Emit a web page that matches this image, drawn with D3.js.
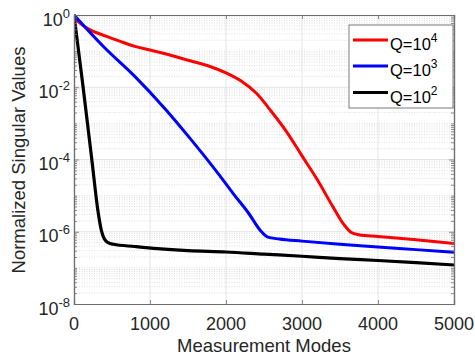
<!DOCTYPE html>
<html>
<head>
<meta charset="utf-8">
<script src="https://cdn.jsdelivr.net/npm/d3@7"></script>
<style>
html,body{margin:0;padding:0;background:#fff;}
svg{display:block;font-family:"Liberation Sans",Arial,sans-serif;}
</style>
</head>
<body>
<svg id="chart" width="475" height="360"></svg>
<script>
// ---- data ----
const redModes  = [0,30,80,200,400,600,800,1000,1250,1500,1800,2000,2200,2400,2600,2800,3000,3200,3400,3550,3650,3750,4000,4500,5000];
const redValues = [1,0.76,0.59,0.40,0.27,0.19,0.135,0.107,0.079,0.056,0.037,0.025,0.0148,6.8e-3,2.1e-3,5.75e-4,1.26e-4,2.8e-5,5.2e-6,1.6e-6,9.5e-7,8.3e-7,7.4e-7,6.0e-7,4.7e-7];
const blueModes  = [0,400,800,1200,1500,1900,2100,2300,2450,2550,2700,3000,3500,4000,4500,5000];
const blueValues = [1,0.126,0.02,2.5e-3,4.5e-4,4.0e-5,1.1e-5,3.2e-6,1.1e-6,7.1e-7,6.3e-7,5.5e-7,4.5e-7,3.8e-7,3.2e-7,2.7e-7];
const blackModes  = [0,120,240,310,360,400,450,520,800,1100,1500,2000,2500,3000,3500,4000,4500,5000];
const blackValues = [1,0.01,7.9e-5,4.5e-6,1.1e-6,6.3e-7,5.0e-7,4.5e-7,3.9e-7,3.4e-7,3.0e-7,2.75e-7,2.4e-7,2.1e-7,1.8e-7,1.6e-7,1.4e-7,1.2e-7];
const seriesNames = ["4","3","2"]; // exponents in Q=10^n
const seriesColors = ["#ff0000","#0000ff","#000000"];
const xTicks = [0,1000,2000,3000,4000,5000];
const yTickExps = [0,-2,-4,-6,-8];

// ---- layout ----
const svg = d3.select("#chart");
const L = 74, R = 454, T = 15, B = 304;
const x = d3.scaleLinear().domain([0,5000]).range([L,R]);
const y = d3.scaleLog().domain([1e-8,1]).range([B,T]);
const axisColor = "#6e6e6e";
const textColor = "#262626";

// grid: vertical major
const g = svg.append("g");
g.selectAll(".vg").data(xTicks.slice(1,-1)).enter().append("line")
  .attr("x1",d=>x(d)).attr("x2",d=>x(d)).attr("y1",T).attr("y2",B)
  .attr("stroke","#e3e3e3").attr("stroke-width",1);
// horizontal minor/major
const minorVals = [];
for (let e=-8; e<0; e++) for (let m=1; m<10; m++) { const v=m*Math.pow(10,e); if (!(m===1 && e%2===0)) minorVals.push(v); }
g.selectAll(".hm").data(minorVals).enter().append("line")
  .attr("x1",L).attr("x2",R).attr("y1",d=>y(d)).attr("y2",d=>y(d))
  .attr("stroke","#d8d8d8").attr("stroke-width",0.8).attr("stroke-dasharray","1,1.5");
g.selectAll(".hM").data(yTickExps.slice(1,-1)).enter().append("line")
  .attr("x1",L).attr("x2",R).attr("y1",d=>y(Math.pow(10,d))).attr("y2",d=>y(Math.pow(10,d)))
  .attr("stroke","#e3e3e3").attr("stroke-width",1);

// lines
const line = d3.line().x(d=>x(d[0])).y(d=>y(d[1])).curve(d3.curveMonotoneX);
const series = [
  d3.zip(redModes, redValues),
  d3.zip(blueModes, blueValues),
  d3.zip(blackModes, blackValues)
];
svg.append("clipPath").attr("id","clip").append("rect").attr("x",L).attr("y",T-2).attr("width",R-L+2).attr("height",B-T+2);
svg.append("g").attr("clip-path","url(#clip)").selectAll("path").data(series).enter().append("path")
  .attr("d",line).attr("fill","none")
  .attr("stroke",(d,i)=>seriesColors[i]).attr("stroke-width",(d,i)=>i===2?3.2:3)
  .attr("stroke-linejoin","round");

// axes box
const ax = svg.append("g");
const xAxisB = d3.axisBottom(x).tickValues(xTicks).tickSize(-4).tickFormat("");
const xAxisT = d3.axisTop(x).tickValues(xTicks).tickSize(-4).tickFormat("");
const majorY = yTickExps.map(e=>Math.pow(10,e));
const yAxisL = d3.axisLeft(y).tickValues(majorY).tickSize(-5).tickFormat("");
const yAxisR = d3.axisRight(y).tickValues(majorY).tickSize(-5).tickFormat("");
const yMinL = d3.axisLeft(y).tickValues(minorVals).tickSize(-3).tickFormat("");
const yMinR = d3.axisRight(y).tickValues(minorVals).tickSize(-3).tickFormat("");
ax.append("g").attr("transform",`translate(0,${B})`).call(xAxisB);
ax.append("g").attr("transform",`translate(0,${T})`).call(xAxisT);
ax.append("g").attr("transform",`translate(${L},0)`).call(yAxisL);
ax.append("g").attr("transform",`translate(${R},0)`).call(yAxisR);
ax.append("g").attr("transform",`translate(${L},0)`).call(yMinL);
ax.append("g").attr("transform",`translate(${R},0)`).call(yMinR);
ax.selectAll("path.domain").attr("stroke",axisColor).attr("stroke-width",1.2);
ax.selectAll(".tick line").attr("stroke",axisColor).attr("stroke-width",0.8);

// x tick labels
svg.append("g").selectAll("text").data(xTicks).enter().append("text")
  .attr("x",d=>x(d)).attr("y",330).attr("text-anchor","middle")
  .attr("font-size",18).attr("fill",textColor).text(d=>d);
// y tick labels
const yl = svg.append("g").selectAll("text").data(yTickExps).enter().append("text")
  .attr("x",70).attr("y",d=>y(Math.pow(10,d))+10.5).attr("text-anchor","end")
  .attr("font-size",18).attr("fill",textColor);
yl.append("tspan").text("10");
yl.append("tspan").attr("font-size",13).attr("dy",-8).text(d=>d);

// axis titles
svg.append("text").attr("x",264).attr("y",352).attr("text-anchor","middle")
  .attr("font-size",18.5).attr("fill",textColor).text("Measurement Modes");
svg.append("text").attr("transform","translate(25,160) rotate(-90)").attr("text-anchor","middle")
  .attr("font-size",18.5).attr("fill",textColor).text("Normalized Singular Values");

// legend
const lg = svg.append("g");
lg.append("rect").attr("x",349).attr("y",25).attr("width",104).attr("height",83)
  .attr("fill","#fff").attr("stroke","#7a7a7a").attr("stroke-width",1);
const rows = [40,66,92.5];
seriesNames.forEach((n,i)=>{
  lg.append("line").attr("x1",353).attr("x2",388).attr("y1",rows[i]).attr("y2",rows[i])
    .attr("stroke",seriesColors[i]).attr("stroke-width",3);
  const t = lg.append("text").attr("x",390).attr("y",rows[i]+10).attr("font-size",16.5).attr("fill","#000");
  t.append("tspan").text("Q=10");
  t.append("tspan").attr("font-size",12).attr("dy",-8).text(n);
});
</script>
</body>
</html>
